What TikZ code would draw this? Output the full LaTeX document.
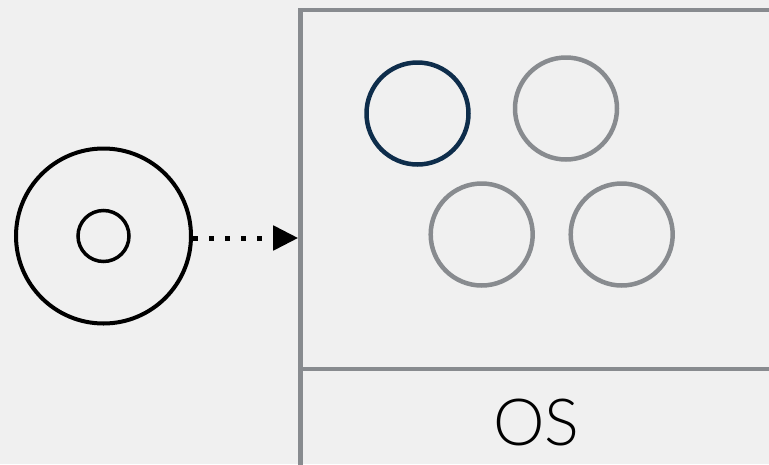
\documentclass[tikz,border=0pt]{standalone}
\usepackage{fontspec}
\newfontfamily\osfont{Lato Light}
\usetikzlibrary{arrows.meta}
\definecolor{bgcol}{HTML}{F0F0F0}
\definecolor{framegray}{HTML}{888B8F}
\definecolor{navy}{HTML}{0E2D4B}
\tikzset{
  proc/.style={circle, draw=framegray, line width=4.5pt, minimum size=102pt, inner sep=0pt},
  active/.style={proc, draw=navy},
  panel/.style={rectangle, draw=framegray, line width=4.5pt, inner sep=0pt, outer sep=0pt, anchor=north west},
  flow/.style={line width=5pt, dash pattern=on 5pt off 11pt, shorten >=2.3pt, -{Triangle[length=25pt,width=24pt]}}
}
\begin{document}
\begin{tikzpicture}[x=1pt,y=-1pt]
  \useasboundingbox (0,0) rectangle (769,464);
  \fill[bgcol] (0,0) rectangle (769,464);
  \clip (0,0) rectangle (769,464);

  % disk image
  \node[circle, draw=black, line width=4pt, minimum size=175pt, inner sep=0pt] (disk) at (103.5,236) {};
  \node[circle, draw=black, line width=3.5pt, minimum size=51pt, inner sep=0pt] (hole) at (103.5,236) {};

  % host: upper compartment and OS layer
  \node[panel, minimum width=520pt, minimum height=359pt] (vm) at (300.5,10) {};
  \node[panel, minimum width=520pt, minimum height=130pt] (os) at (300.5,369) {};
  \node[anchor=base, font=\osfont\fontsize{65}{65}\selectfont] (oslabel) at (536.5,445) {OS};

  % processes
  \node[active] (p1) at (417.5,113.5) {};
  \node[proc] (p2) at (566,108.5) {};
  \node[proc] (p3) at (481.7,234.5) {};
  \node[proc] (p4) at (621.7,234.5) {};

  % deployment arrow
  \draw[flow] ([yshift=-2pt]disk.east) -- ([yshift=-2pt]disk.east -| vm.west);
\end{tikzpicture}
\end{document}
